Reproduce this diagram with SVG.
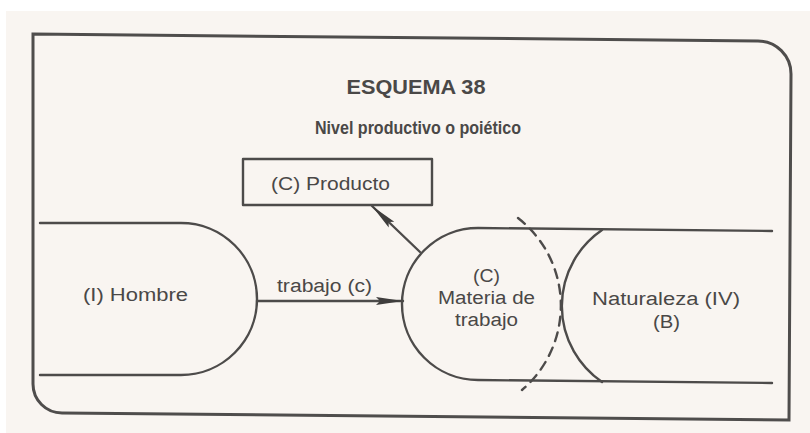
<svg xmlns="http://www.w3.org/2000/svg" width="810" height="433" viewBox="0 0 810 433">
<defs>
<style>
.ln{fill:none;stroke:#4d4b4a;stroke-width:2.4;stroke-linecap:round;stroke-linejoin:round}
.fr{fill:none;stroke:#4f4d4c;stroke-width:3}
.t{font-family:"Liberation Sans",Arial,sans-serif;font-size:18px;fill:#4a4847}
.h{font-family:"Liberation Sans",Arial,sans-serif;font-weight:bold;fill:#4a4847}
</style>
<marker id="ah" markerWidth="28" markerHeight="12" refX="27" refY="6" orient="auto" markerUnits="userSpaceOnUse">
<path d="M0,2 L27,6 L0,10 L4,6 Z" fill="#3f3d3c"/>
</marker>
</defs>
<rect x="0" y="0" width="810" height="433" fill="#ffffff"/>
<rect x="6" y="11" width="804" height="422" fill="#f9f5f1"/>
<path class="fr" d="M33,34 L758,41 A33,33 0 0 1 791,74 L789,420 L62,413 A29,29 0 0 1 33,384 Z"/>
<text class="h" x="416" y="94" font-size="20" text-anchor="middle" textLength="139" lengthAdjust="spacingAndGlyphs">ESQUEMA  38</text>
<text class="h" x="418" y="134" font-size="19" text-anchor="middle" textLength="206" lengthAdjust="spacingAndGlyphs">Nivel productivo o poiético</text>
<g id="hombre">
<path class="ln" d="M40,223 L181,223 A76,76 0 0 1 181,375 L40,375"/>
<text class="t" x="83" y="301" textLength="105" lengthAdjust="spacingAndGlyphs">(I)  Hombre</text>
</g>
<g id="producto">
<rect class="ln" x="243" y="159" width="189" height="46"/>
<text class="t" x="271" y="190" textLength="119" lengthAdjust="spacingAndGlyphs">(C) Producto</text>
</g>
<g id="materia">
<path class="ln" d="M772,231 L478,228 A76,76 0 0 0 478,380 L772,383"/>
<path class="ln" d="M518,218 A111,111 0 0 1 522,390" stroke-dasharray="9,7"/>
<text class="t" x="473" y="282" textLength="27" lengthAdjust="spacingAndGlyphs">(C)</text>
<text class="t" x="438" y="304" textLength="97" lengthAdjust="spacingAndGlyphs">Materia de</text>
<text class="t" x="455" y="326" textLength="63" lengthAdjust="spacingAndGlyphs">trabajo</text>
</g>
<g id="naturaleza">
<path class="ln" d="M602,230 A92,92 0 0 0 602,382"/>
<text class="t" x="592" y="305" textLength="148" lengthAdjust="spacingAndGlyphs">Naturaleza  (IV)</text>
<text class="t" x="653" y="328" textLength="27" lengthAdjust="spacingAndGlyphs">(B)</text>
</g>
<g id="connectors">
<path class="ln" d="M257,301 L403,301" marker-end="url(#ah)"/>
<text class="t" x="277" y="292" textLength="95" lengthAdjust="spacingAndGlyphs">trabajo (c)</text>
<path class="ln" d="M420,252 L372,206" marker-end="url(#ah)"/>
</g>
</svg>
